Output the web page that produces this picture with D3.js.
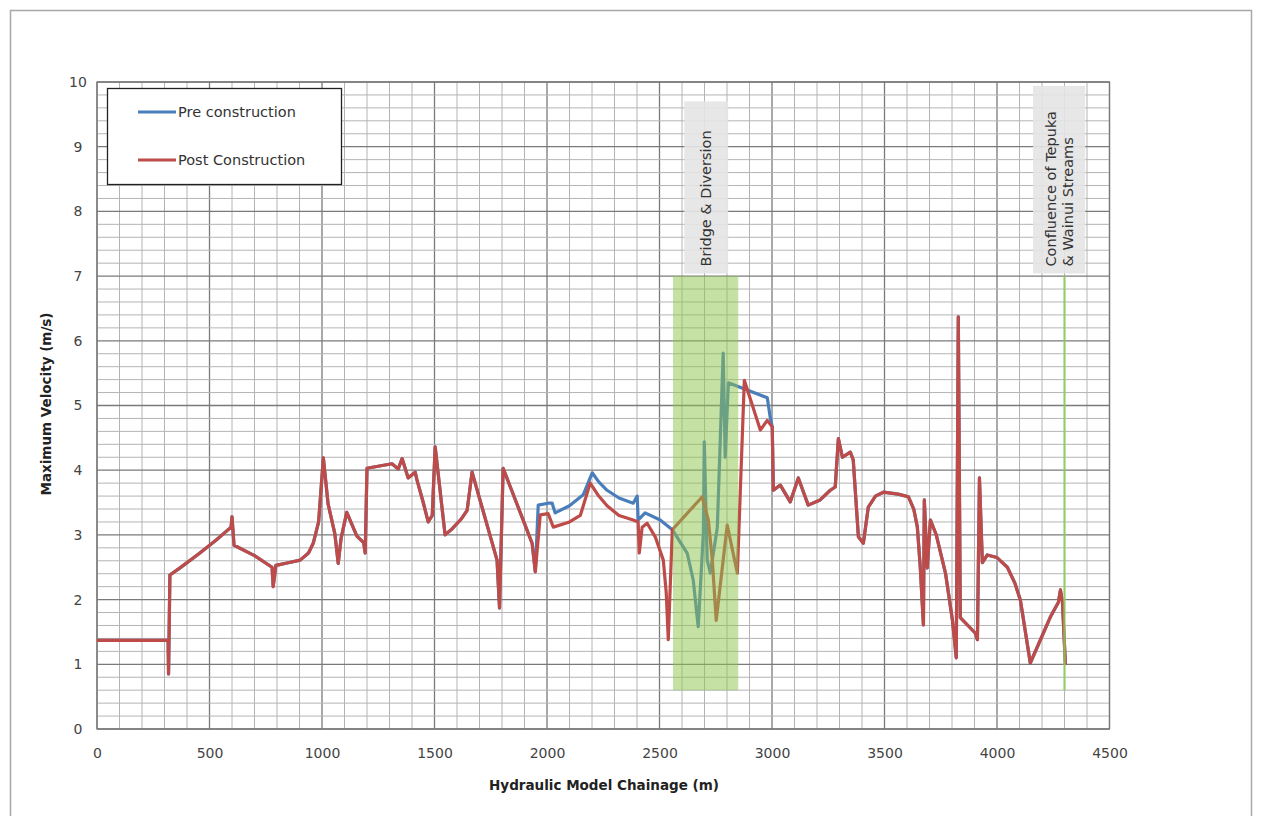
<!DOCTYPE html>
<html>
<head>
<meta charset="utf-8">
<script src="https://cdnjs.cloudflare.com/ajax/libs/d3/7.8.5/d3.min.js"></script>
<style>
    body { margin: 0; background: #fff; }
    svg { display: block; font-family: "DejaVu Sans", sans-serif; }
</style>
</head>
<body>
<div id="canvas"></div>
<script>
// chainage (m), max velocity (m/s)
var postConstruction = [
    [0, 1.37], [316, 1.37], [318, 0.85], [324, 2.38], [369, 2.49], [450, 2.7], [530, 2.92], [596, 3.12],
    [600, 3.28], [609, 2.84], [700, 2.68], [778, 2.5], [783, 2.2], [795, 2.53], [850, 2.57], [903, 2.61],
    [940, 2.72], [961, 2.87], [985, 3.2], [1006, 4.19], [1027, 3.48], [1057, 3.02], [1072, 2.56], [1085, 2.95],
    [1110, 3.35], [1155, 2.98], [1185, 2.88], [1192, 2.72], [1200, 4.03], [1311, 4.1], [1339, 4.02], [1356, 4.18],
    [1383, 3.88], [1414, 3.97], [1422, 3.85], [1450, 3.5], [1472, 3.2], [1490, 3.3], [1503, 4.36], [1547, 3.0],
    [1580, 3.1], [1620, 3.25], [1645, 3.38], [1667, 3.97], [1778, 2.61], [1789, 1.87], [1805, 4.03], [1934, 2.87],
    [1948, 2.43], [1970, 3.31], [2005, 3.33], [2028, 3.12], [2100, 3.2], [2148, 3.3], [2192, 3.8], [2230, 3.6],
    [2267, 3.45], [2320, 3.3], [2383, 3.23], [2405, 3.2], [2410, 2.72], [2423, 3.12], [2445, 3.18], [2481, 2.97],
    [2517, 2.61], [2530, 2.1], [2539, 1.38], [2557, 3.08], [2690, 3.59], [2717, 3.23], [2735, 2.6], [2752, 1.68],
    [2801, 3.15], [2846, 2.41], [2877, 5.39], [2948, 4.62], [2979, 4.77], [3001, 4.67], [3006, 3.69], [3037, 3.77],
    [3081, 3.51], [3117, 3.88], [3161, 3.46], [3214, 3.54], [3259, 3.69], [3281, 3.74], [3295, 4.49], [3313, 4.2],
    [3348, 4.28], [3361, 4.16], [3384, 2.97], [3406, 2.87], [3428, 3.43], [3460, 3.6], [3495, 3.66], [3560, 3.63],
    [3606, 3.59], [3630, 3.4], [3646, 3.12], [3659, 2.5], [3673, 1.61], [3677, 3.54], [3690, 2.49], [3704, 3.23],
    [3730, 3.0], [3771, 2.41], [3802, 1.68], [3819, 1.1], [3828, 6.37], [3837, 1.72], [3904, 1.48], [3913, 1.38],
    [3922, 3.88], [3935, 2.57], [3957, 2.69], [4000, 2.65], [4046, 2.5], [4080, 2.25], [4104, 1.99], [4148, 1.02],
    [4237, 1.73], [4273, 1.96], [4282, 2.15], [4291, 1.96], [4304, 0.99]
];

// pre construction only differs from post between ~1950 and ~3000 m
var preConstructionDiff = [
    [1948, 2.43], [1961, 3.46], [2005, 3.49], [2023, 3.49], [2036, 3.34], [2100, 3.45], [2161, 3.62], [2201, 3.96],
    [2230, 3.82], [2267, 3.69], [2320, 3.57], [2383, 3.49], [2401, 3.6], [2405, 3.23], [2436, 3.34], [2503, 3.23],
    [2557, 3.08], [2623, 2.72], [2650, 2.3], [2672, 1.58], [2695, 3.03], [2699, 4.44], [2712, 2.61], [2726, 2.41],
    [2757, 3.12], [2783, 5.81], [2792, 4.2], [2806, 5.35], [2979, 5.12], [2992, 4.82], [3001, 4.67]
];

var preConstruction = postConstruction.filter(function(d) { return d[0] < 1948; })
    .concat(preConstructionDiff)
    .concat(postConstruction.filter(function(d) { return d[0] > 3001; }));

var xTicks = [0, 500, 1000, 1500, 2000, 2500, 3000, 3500, 4000, 4500];
var yTicks = [0, 1, 2, 3, 4, 5, 6, 7, 8, 9, 10];

var seriesNames = ['Pre construction', 'Post Construction'];
var seriesColors = ['#4a7ebb', '#be4b48'];

// annotated zones: [from, to] chainage
var bridgeZone = [2560, 2850];
var confluenceAt = 4300;

var width = 1262,
    height = 816,
    plotLeft = 97, plotRight = 1109.5, plotTop = 82, plotBottom = 729;

var svg = d3.select('#canvas').append('svg')
    .attr('width', width)
    .attr('height', height);

svg.append('rect')
    .attr('x', 10.5).attr('y', 10.5)
    .attr('width', 1241).attr('height', 830)
    .attr('fill', '#fff')
    .attr('stroke', '#a8a8a8')
    .attr('stroke-width', 1.5);

var x = d3.scaleLinear().domain([0, 4500]).range([plotLeft, plotRight]);
var y = d3.scaleLinear().domain([0, 10]).range([plotBottom, plotTop]);

// grid
var grid = svg.append('g');

grid.selectAll('line.vx')
    .data(d3.range(0, 4501, 100))
    .enter().append('line')
    .attr('x1', function(d) { return x(d); })
    .attr('x2', function(d) { return x(d); })
    .attr('y1', plotTop).attr('y2', plotBottom)
    .attr('stroke', function(d) { return d % 500 === 0 ? '#7a7a7a' : '#b4b4b4'; })
    .attr('stroke-width', function(d) { return d % 500 === 0 ? 1.3 : 1; });

grid.selectAll('line.hy')
    .data(d3.range(0, 51))
    .enter().append('line')
    .attr('x1', plotLeft).attr('x2', plotRight)
    .attr('y1', function(d) { return y(d / 5); })
    .attr('y2', function(d) { return y(d / 5); })
    .attr('stroke', function(d) { return d % 5 === 0 ? '#7a7a7a' : '#b4b4b4'; })
    .attr('stroke-width', function(d) { return d % 5 === 0 ? 1.3 : 1; });

svg.append('rect')
    .attr('x', plotLeft).attr('y', plotTop)
    .attr('width', plotRight - plotLeft).attr('height', plotBottom - plotTop)
    .attr('fill', 'none')
    .attr('stroke', '#777')
    .attr('stroke-width', 1.2);

// axes
var xAxis = svg.append('g')
    .attr('transform', 'translate(0,' + plotBottom + ')')
    .call(d3.axisBottom(x).tickValues(xTicks).tickSize(0).tickPadding(19).tickFormat(d3.format('d')));

var yAxis = svg.append('g')
    .attr('transform', 'translate(' + plotLeft + ',0)')
    .call(d3.axisLeft(y).tickValues(yTicks).tickSize(0).tickPadding(19).tickFormat(d3.format('d')));

[xAxis, yAxis].forEach(function(a) {
    a.select('.domain').remove();
    a.selectAll('text')
        .attr('fill', '#444')
        .style('font-size', '14px')
        .style('font-family', '"DejaVu Sans", sans-serif');
});
yAxis.selectAll('text').attr('text-anchor', 'middle');

svg.append('text')
    .attr('x', 604)
    .attr('y', 790)
    .attr('text-anchor', 'middle')
    .attr('fill', '#222')
    .style('font-size', '13.5px')
    .style('font-weight', 'bold')
    .text('Hydraulic Model Chainage (m)');

svg.append('text')
    .attr('transform', 'translate(51,404) rotate(-90)')
    .attr('text-anchor', 'middle')
    .attr('fill', '#222')
    .style('font-size', '13.5px')
    .style('font-weight', 'bold')
    .text('Maximum Velocity (m/s)');

// series
var line = d3.line()
    .x(function(d) { return x(d[0]); })
    .y(function(d) { return y(d[1]); });

[preConstruction, postConstruction].forEach(function(series, i) {
    svg.append('path')
        .datum(series)
        .attr('d', line)
        .attr('fill', 'none')
        .attr('stroke', seriesColors[i])
        .attr('stroke-width', 3.2)
        .attr('stroke-linejoin', 'round');
});

// annotations drawn over the lines
svg.append('rect')
    .attr('x', x(bridgeZone[0]))
    .attr('y', y(7))
    .attr('width', x(bridgeZone[1]) - x(bridgeZone[0]))
    .attr('height', y(0.6) - y(7))
    .attr('fill', '#8bc34a')
    .attr('opacity', 0.5);

svg.append('line')
    .attr('x1', x(confluenceAt)).attr('x2', x(confluenceAt))
    .attr('y1', y(7)).attr('y2', y(0.6))
    .attr('stroke', '#8fcf5a')
    .attr('stroke-width', 2.5)
    .attr('opacity', 0.75);

var labelBoxes = [
    { x0: 2610, x1: 2805, y0: 7.04, y1: 9.7, lines: ['Bridge & Diversion'] },
    { x0: 4160, x1: 4392, y0: 7.04, y1: 9.94, lines: ['Confluence of Tepuka', '& Wainui Streams'] }
];

labelBoxes.forEach(function(b) {
    svg.append('rect')
        .attr('x', x(b.x0)).attr('y', y(b.y1))
        .attr('width', x(b.x1) - x(b.x0))
        .attr('height', y(b.y0) - y(b.y1))
        .attr('fill', '#e4e4e4')
        .attr('opacity', 0.9);

    var cx = (x(b.x0) + x(b.x1)) / 2,
        n = b.lines.length;

    b.lines.forEach(function(t, j) {
        var tx = cx + (j - (n - 1) / 2) * 17 + 5;
        svg.append('text')
            .attr('transform', 'translate(' + tx + ',' + (y(b.y0) - 7) + ') rotate(-90)')
            .attr('fill', '#333')
            .style('font-size', '14.5px')
            .text(t);
    });
});

// legend
var legend = svg.append('g');

legend.append('rect')
    .attr('x', 107.5).attr('y', 88.5)
    .attr('width', 234).attr('height', 96)
    .attr('fill', '#fff')
    .attr('stroke', '#222')
    .attr('stroke-width', 1.3);

seriesNames.forEach(function(name, i) {
    var ly = 112 + i * 48;
    legend.append('line')
        .attr('x1', 138).attr('x2', 176)
        .attr('y1', ly).attr('y2', ly)
        .attr('stroke', seriesColors[i])
        .attr('stroke-width', 3);
    legend.append('text')
        .attr('x', 178).attr('y', ly + 5)
        .attr('fill', '#333')
        .style('font-size', '14.5px')
        .text(name);
});
</script>
</body>
</html>
